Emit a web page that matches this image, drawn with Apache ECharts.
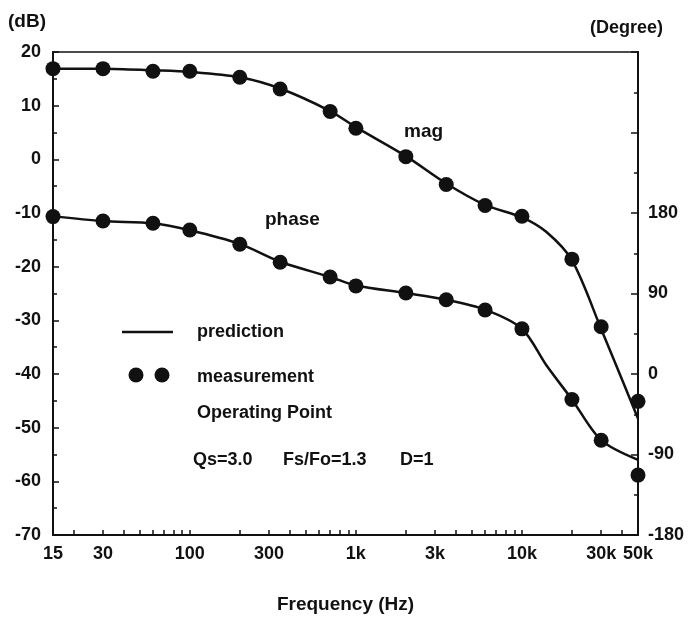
<!DOCTYPE html>
<html>
<head>
<meta charset="utf-8">
<script src="https://cdn.jsdelivr.net/npm/echarts@6/dist/echarts.min.js"></script>
<style>
html,body{margin:0;padding:0;background:#fff;}
#main{width:695px;height:619px;}
</style>
</head>
<body>
<div id="main"></div>
<script>
var measFreq = [15, 30, 60, 100, 200, 350, 700, 1000, 2000, 3500, 6000, 10000, 20000, 30000, 50000];
var measMag = [16.9, 16.9, 16.4, 16.4, 15.3, 13.1, 8.9, 5.8, 0.5, -4.7, -8.6, -10.6, -18.6, -31.2, -45.1];
var measPhase = [176, 171, 168.5, 161, 145, 125, 108.5, 98.5, 90.5, 83, 71.5, 50.5, -28.5, -74, -113];

var predFreq = [15, 30, 60, 100, 200, 350, 700, 1000, 2000, 3500, 6000, 10000, 14000, 20000, 30000, 50000];
var predMag = [16.9, 16.9, 16.6, 16.3, 15.3, 13.2, 9.0, 6.0, 0.6, -4.5, -8.5, -10.8, -13.5, -18.8, -31.6, -48.3];
var predPhase = [176.5, 171, 168.5, 160.8, 145.5, 125.5, 108.5, 99, 90.5, 83, 72, 50.6, 10, -28.4, -74, -96];

var xLabels = [15, 30, 100, 300, 1000, 3000, 10000, 30000, 50000];
var xTicks = [20, 30, 40, 50, 60, 70, 80, 90, 100, 200, 300, 400, 500, 600, 700, 800, 900,
    1000, 2000, 3000, 4000, 5000, 6000, 7000, 8000, 9000, 10000, 20000, 30000, 40000, 50000];

function pairs(xs, ys) {
    var out = [];
    for (var i = 0; i < xs.length; i++) {
        out.push([xs[i], ys[i]]);
    }
    return out;
}

var FONT = "'Liberation Sans', Arial, sans-serif";
var ink = '#111';
var lab = {color: ink, fontFamily: FONT, fontWeight: 'bold', fontSize: 18};

function txt(x, y, s, size) {
    return {
        type: 'text', x: x, y: y,
        style: {text: s, fill: ink, font: 'bold ' + (size || 18) + 'px ' + FONT, verticalAlign: 'middle'}
    };
}

var chart = echarts.init(document.getElementById('main'));
var option = {
    backgroundColor: '#fff',
    animation: false,
    grid: {
        left: 53, right: 57, top: 52, bottom: 81,
        show: true, borderColor: ink, borderWidth: 1.5
    },
    xAxis: {
        type: 'log',
        min: 15,
        max: 50000,
        axisLine: {onZero: false, lineStyle: {color: ink, width: 2}},
        axisTick: {inside: true, length: 5, customValues: xTicks, lineStyle: {color: ink, width: 1.5}},
        minorTick: {show: false},
        splitLine: {show: false},
        axisLabel: Object.assign({
            margin: 10,
            customValues: xLabels,
            formatter: function (v) {
                return v >= 1000 ? (v / 1000) + 'k' : String(v);
            }
        }, lab),
        name: 'Frequency (Hz)',
        nameLocation: 'middle',
        nameGap: 60,
        nameTextStyle: {color: ink, fontFamily: FONT, fontWeight: 'bold', fontSize: 19}
    },
    yAxis: [{
        type: 'value',
        min: -70,
        max: 20,
        interval: 10,
        axisLine: {show: true, onZero: false, lineStyle: {color: ink, width: 2}},
        axisTick: {inside: true, length: 6, lineStyle: {color: ink, width: 1.5}},
        minorTick: {show: true, splitNumber: 2, length: 4, lineStyle: {color: ink, width: 1.5}},
        splitLine: {show: false},
        axisLabel: Object.assign({margin: 12}, lab)
    }, {
        type: 'value',
        min: -180,
        max: 360,
        interval: 90,
        position: 'right',
        axisLine: {show: true, onZero: false, lineStyle: {color: ink, width: 2}},
        axisTick: {inside: true, length: 7, lineStyle: {color: ink, width: 1.5}},
        minorTick: {show: true, splitNumber: 2, length: 4, lineStyle: {color: ink, width: 1.5}},
        splitLine: {show: false},
        axisLabel: Object.assign({
            margin: 10,
            formatter: function (v) {
                return v <= 180 ? String(v) : '';
            }
        }, lab)
    }],
    series: [{
        name: 'mag prediction',
        type: 'line',
        yAxisIndex: 0,
        data: pairs(predFreq, predMag),
        smooth: 0.3,
        showSymbol: false,
        lineStyle: {color: ink, width: 2.5}
    }, {
        name: 'phase prediction',
        type: 'line',
        yAxisIndex: 1,
        data: pairs(predFreq, predPhase),
        smooth: 0.3,
        showSymbol: false,
        lineStyle: {color: ink, width: 2.5}
    }, {
        name: 'mag measurement',
        type: 'scatter',
        yAxisIndex: 0,
        clip: false,
        data: pairs(measFreq, measMag),
        symbolSize: 15,
        itemStyle: {color: ink, opacity: 1}
    }, {
        name: 'phase measurement',
        type: 'scatter',
        yAxisIndex: 1,
        clip: false,
        data: pairs(measFreq, measPhase),
        symbolSize: 15,
        itemStyle: {color: ink, opacity: 1}
    }],
    graphic: [
        txt(8, 22, '(dB)', 19),
        txt(590, 28, '(Degree)'),
        txt(404, 132, 'mag', 19),
        txt(265, 220, 'phase', 19),
        {type: 'line', shape: {x1: 122, y1: 332, x2: 173, y2: 332}, style: {stroke: ink, lineWidth: 2.5}},
        {type: 'circle', shape: {cx: 136, cy: 375, r: 7.5}, style: {fill: ink}},
        {type: 'circle', shape: {cx: 162, cy: 375, r: 7.5}, style: {fill: ink}},
        txt(197, 332, 'prediction'),
        txt(197, 377, 'measurement'),
        txt(197, 413, 'Operating Point'),
        txt(193, 460, 'Qs=3.0'),
        txt(283, 460, 'Fs/Fo=1.3'),
        txt(400, 460, 'D=1')
    ]
};
chart.setOption(option);
window.addEventListener('resize', chart.resize);
</script>
</body>
</html>
